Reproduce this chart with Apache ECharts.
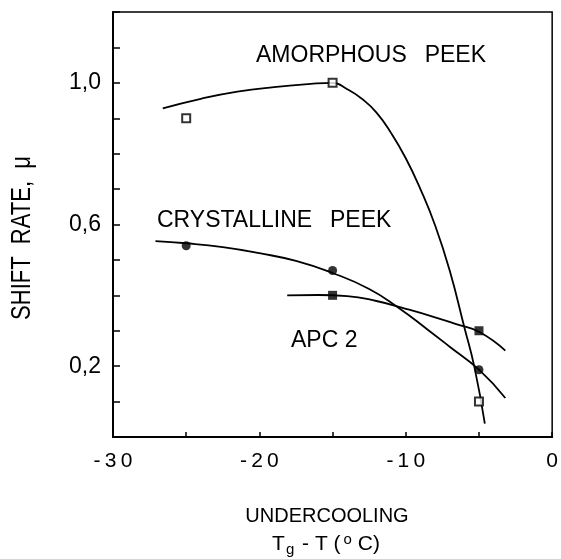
<!DOCTYPE html>
<html>
<head>
<meta charset="utf-8">
<script src="https://cdn.jsdelivr.net/npm/echarts@6/dist/echarts.min.js"></script>
<style>
  html, body { margin: 0; padding: 0; background: #fff; }
  #chart { width: 561px; height: 559px; }
</style>
</head>
<body>
<div id="chart"></div>
<script>
// measured points (x = Tg - T in degC, y = shift rate)
var amorphousPts = [[-25, 0.90], [-15, 1.00], [-5, 0.10]];
var crystallinePts = [[-25, 0.54], [-15, 0.47], [-5, 0.19]];
var apcPts = [[-15, 0.40], [-5, 0.30]];

// fitted curves
var amorphousFit = [[-26.6, 0.928], [-24, 0.955], [-21.5, 0.975], [-19, 0.988], [-16.5, 0.997],
  [-15, 1.0], [-14, 0.982], [-13, 0.955], [-12, 0.916], [-11, 0.858], [-10, 0.787], [-9, 0.70],
  [-8, 0.598], [-7, 0.47], [-6, 0.31], [-5.3, 0.195], [-4.6, 0.038]];
var crystallineFit = [[-27.1, 0.553], [-25, 0.547], [-22.5, 0.536], [-20, 0.519], [-17.5, 0.497],
  [-15, 0.463], [-12.5, 0.418], [-10.5, 0.365], [-8.5, 0.303], [-7, 0.255], [-5, 0.19], [-3.2, 0.11]];
var apcFit = [[-18.1, 0.40], [-16, 0.401], [-14, 0.398], [-12, 0.384], [-10, 0.362], [-8, 0.338],
  [-6.5, 0.318], [-5, 0.297], [-3.2, 0.244]];

var yLabels = [0.2, 0.6, 1.0];
var xLabels = [-30, -20, -10, 0];

var FONT = '"Liberation Sans", Arial, Helvetica, sans-serif';

var chart = echarts.init(document.getElementById('chart'));

function fitLine(data) {
  return {
    type: 'line', data: data, smooth: 0.5, symbol: 'none', silent: true,
    lineStyle: { color: '#000', width: 1.8 }, z: 2
  };
}

var option = {
  backgroundColor: '#fff',
  animation: false,
  grid: {
    left: 113, right: 6, top: 12, bottom: 122,
    show: true, borderColor: '#000', borderWidth: 1.5, backgroundColor: 'transparent'
  },
  xAxis: {
    type: 'value', min: -30, max: 0, interval: 5,
    axisLine: { onZero: false, lineStyle: { color: '#000', width: 2 } },
    axisTick: { inside: true, length: 5, lineStyle: { color: '#000', width: 1.5 } },
    splitLine: { show: false },
    axisLabel: {
      color: '#000', fontFamily: FONT, fontSize: 21, margin: 14,
      formatter: function (v) {
        if (xLabels.indexOf(v) < 0) return '';
        return String(v).split('').join('\u2009');
      }
    }
  },
  yAxis: {
    type: 'value', min: 0, max: 1.2, interval: 0.1,
    axisLine: { onZero: false, lineStyle: { color: '#000', width: 2 } },
    axisTick: { inside: true, length: 7, lineStyle: { color: '#000', width: 1.5 } },
    splitLine: { show: false },
    axisLabel: {
      color: '#000', fontFamily: FONT, fontSize: 23, margin: 12,
      formatter: function (v) {
        var r = Math.round(v * 10) / 10;
        if (yLabels.indexOf(r) < 0) return '';
        return r.toFixed(1).replace('.', ',');
      }
    }
  },
  graphic: [
    { type: 'text', x: 256, y: 56,
      style: { text: 'AMORPHOUS\u2002 PEEK', fontFamily: FONT, fontSize: 23, fill: '#000', verticalAlign: 'middle' } },
    { type: 'text', x: 157, y: 221,
      style: { text: 'CRYSTALLINE\u2002 PEEK', fontFamily: FONT, fontSize: 23, fill: '#000', verticalAlign: 'middle' } },
    { type: 'text', x: 291, y: 341,
      style: { text: 'APC 2', fontFamily: FONT, fontSize: 23, fill: '#000', verticalAlign: 'middle' } },
    { type: 'text', x: 22, y: 238, rotation: Math.PI / 2, scaleY: 1.25,
      style: { text: 'SHIFT  RATE,  \u03bc', fontFamily: FONT, fontSize: 22, fill: '#000', align: 'center', verticalAlign: 'middle' } },
    { type: 'text', x: 327, y: 516,
      style: { text: 'UNDERCOOLING', fontFamily: FONT, fontSize: 20, fill: '#000', align: 'center', verticalAlign: 'middle' } },
    { type: 'text', x: 326, y: 544,
      style: {
        text: '{n|T}{sub|g}{n| - T (}{sup|o}{n| C)}', align: 'center', verticalAlign: 'middle',
        rich: {
          n: { fontFamily: FONT, fontSize: 21, fill: '#000', lineHeight: 26, verticalAlign: 'middle' },
          sub: { fontFamily: FONT, fontSize: 15, fill: '#000', lineHeight: 15, verticalAlign: 'bottom', padding: [0, 2, 0, 1] },
          sup: { fontFamily: FONT, fontSize: 15, fill: '#000', lineHeight: 15, verticalAlign: 'top', padding: [1, 0, 0, 3] }
        }
      } }
  ],
  series: [
    fitLine(amorphousFit),
    fitLine(crystallineFit),
    fitLine(apcFit),
    {
      type: 'scatter', data: amorphousPts, symbol: 'rect', symbolSize: 8, z: 5,
      itemStyle: { color: '#fff', borderColor: '#000', borderWidth: 2 }
    },
    {
      type: 'scatter', data: crystallinePts, symbol: 'circle', symbolSize: 9, z: 5,
      itemStyle: { color: '#000' }
    },
    {
      type: 'scatter', data: apcPts, symbol: 'rect', symbolSize: 9, z: 5,
      itemStyle: { color: '#000' }
    }
  ]
};

chart.setOption(option);
</script>
</body>
</html>
